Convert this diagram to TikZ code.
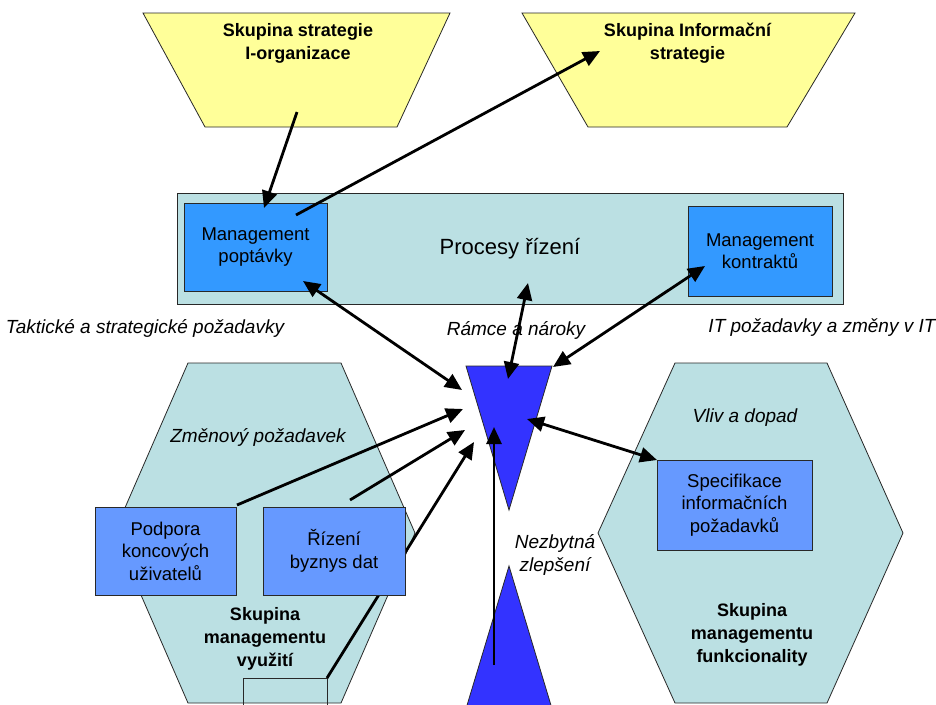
\documentclass[tikz,border=0pt]{standalone}
\usepackage{fontspec}
\setmainfont{Liberation Sans}
\usetikzlibrary{arrows.meta}

\definecolor{groupyellow}{RGB}{255,255,153}
\definecolor{zonefill}{RGB}{187,224,227}
\definecolor{mgmtblue}{RGB}{51,153,255}
\definecolor{subblue}{RGB}{102,153,255}
\definecolor{wedgeblue}{RGB}{51,51,255}
\definecolor{edge}{RGB}{40,40,40}

\begin{document}
\begin{tikzpicture}[x=1pt,y=-1pt,
  zone/.style={draw=edge,line width=0.8pt},
  grouptitle/.style={font=\fontsize{18}{23}\selectfont\bfseries,align=center,inner sep=0pt},
  boxtext/.style={font=\fontsize{18.5}{22.5}\selectfont,align=center},
  mgmtbox/.style={boxtext,draw=edge,line width=0.8pt,fill=mgmtblue,inner sep=0pt},
  subbox/.style={boxtext,draw=edge,line width=0.8pt,fill=subblue,inner sep=0pt},
  flowlabel/.style={font=\fontsize{19}{23}\selectfont\itshape,align=center,inner sep=0pt},
  flow/.style={line width=2.8pt,-{Triangle[length=17pt,width=15pt]}},
  twoway/.style={line width=2.8pt,{Triangle[length=17pt,width=15pt]}-{Triangle[length=17pt,width=15pt]}}]

\clip (0,0) rectangle (936,704);
\fill[white] (0,0) rectangle (936,704);

% strategy groups
\draw[zone,fill=groupyellow] (143,13) -- (450,13) -- (397,127) -- (205,127) -- cycle;
\draw[zone,fill=groupyellow] (522,13) -- (855,13) -- (787,127) -- (588,127) -- cycle;
\node[grouptitle] (orgstrat) at (298,43.5) {Skupina strategie\\I-organizace};
\node[grouptitle] (infstrat) at (687.5,43.5) {Skupina Informační\\strategie};

% control processes band
\draw[zone,fill=zonefill] (177,193) rectangle (843,304);
\node[font=\fontsize{22}{26}\selectfont,inner sep=0pt] (procesy) at (510,249) {Procesy řízení};
\node[mgmtbox,minimum width=143pt,minimum height=88pt] (poptavka) at (255.5,247) {Management\\poptávky};
\node[mgmtbox,minimum width=144pt,minimum height=90pt] (kontrakty) at (760,251) {Management\\kontraktů};

% flow labels
\node[flowlabel] (taktlbl) at (145,328) {Taktické a strategické požadavky};
\node[flowlabel] (ramcelbl) at (516,330) {Rámce a nároky};
\node[flowlabel] (itlbl) at (822,328) {IT požadavky a změny v IT};

% management groups
\draw[zone,fill=zonefill] (188,363) -- (341,363) -- (415,533) -- (341,703) -- (188,703) -- (114,533) -- cycle;
\draw[zone,fill=zonefill] (675,363) -- (827,363) -- (903,533) -- (827,703) -- (675,703) -- (598,533) -- cycle;
\draw[zone] (243,678) rectangle (327,720);

\node[flowlabel] (zmenlbl) at (258,437) {Změnový požadavek};
\node[grouptitle] (vyuziti) at (265,639) {Skupina\\managementu\\využití};
\node[flowlabel] (vlivlbl) at (745,418) {Vliv a dopad};
\node[grouptitle] (funkc) at (752,635) {Skupina\\managementu\\funkcionality};
\node[subbox,minimum width=155pt,minimum height=90pt] (specif) at (734.5,505) {Specifikace\\informačních\\požadavků};

% central wedges
\draw[zone,fill=wedgeblue] (466,366) -- (552,366) -- (509,510) -- cycle;
\draw[zone,fill=wedgeblue] (509,566) -- (553,712) -- (465,712) -- cycle;
\node[flowlabel] (zlepseni) at (555,554.5) {Nezbytná\\zlepšení};

% connector end points
\coordinate (orgout) at (297,112);
\coordinate (popin) at (264,208);
\coordinate (popout) at (296,215);
\coordinate (infin) at (600,51);
\coordinate (popbot) at (303,281);
\coordinate (wedgeL1) at (462,390);
\coordinate (procbot) at (528,283);
\coordinate (wedgeTop) at (508,379);
\coordinate (kontrin) at (705,266);
\coordinate (wedgeTR) at (553,367);
\coordinate (wedgeR) at (527,419);
\coordinate (specin) at (657,460);
\coordinate (podout) at (237,505);
\coordinate (wedgeL2) at (463,409);
\coordinate (rizout) at (350,500);
\coordinate (wedgeL3) at (465,430);
\coordinate (smallout) at (327,678);
\coordinate (wedgeL4) at (474,442);
\coordinate (lowout) at (494,665);
\coordinate (wedgeIn) at (494,427);

% connectors
\draw[flow] (orgout) -- (popin);
\draw[flow] (popout) -- (infin);
\draw[twoway] (popbot) -- (wedgeL1);
\draw[twoway] (procbot) -- (wedgeTop);
\draw[twoway] (kontrin) -- (wedgeTR);
\draw[twoway] (wedgeR) -- (specin);
\draw[flow] (podout) -- (wedgeL2);
\draw[flow] (rizout) -- (wedgeL3);
\draw[flow] (smallout) -- (wedgeL4);
\draw[flow] (lowout) -- (wedgeIn);

% usage group boxes
\node[subbox,minimum width=141pt,minimum height=88pt] (podpora) at (165.5,551) {Podpora\\koncových\\uživatelů};
\node[subbox,minimum width=142pt,minimum height=88pt] (rizeni) at (334,551) {Řízení\\byznys dat};

\end{tikzpicture}
\end{document}
